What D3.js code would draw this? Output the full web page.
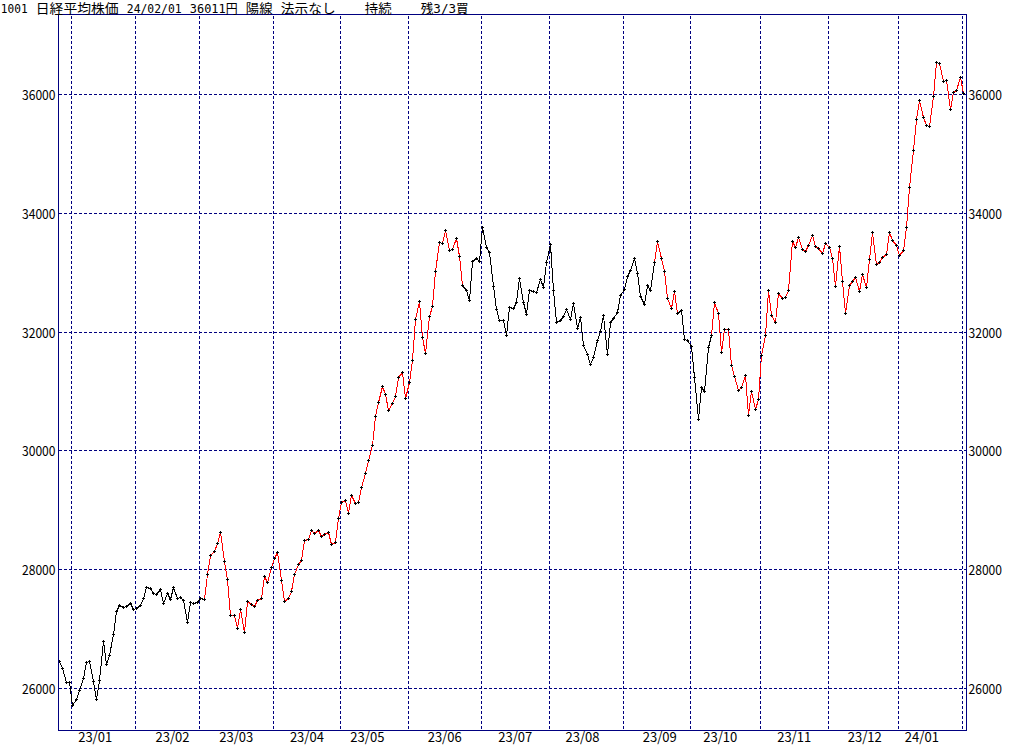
<!DOCTYPE html>
<html><head><meta charset="utf-8">
<script src="https://cdn.jsdelivr.net/npm/d3@7/dist/d3.min.js"></script>
<style>html,body{margin:0;padding:0;background:#fff;overflow:hidden}</style>
</head><body><svg id="c" width="1024" height="745"></svg>
<script>
// ---- data ----
const title = "1001 日経平均株価 24/02/01 36011円 陽線 法示なし    持続    残3/3買";
// daily closes, 2022/12/27 .. 2024/02/01
const closes = [
 // 2022/12
 26447.87,26340.50,26093.67,26094.50,
 // 2023/01
 25716.86,25820.80,25973.85,26175.56,26446.00,26449.61,26119.52,25822.32,26138.68,26791.12,
 26405.23,26553.53,26906.04,27299.19,27395.01,27362.75,27382.56,27433.40,27327.11,
 // 02
 27346.88,27402.05,27509.46,27693.65,27685.47,27606.46,27584.35,27670.98,27427.32,27602.77,
 27501.86,27696.44,27513.13,27531.94,27473.10,27104.32,27453.48,27423.96,27445.56,
 // 03
 27516.53,27498.87,27927.47,28237.78,28309.16,28444.19,28623.15,28143.97,27832.96,27222.04,
 27229.48,27010.61,27333.79,26945.67,27466.61,27419.61,27385.25,27476.87,27518.25,27883.78,
 27782.93,28041.48,
 // 04
 28188.15,28287.42,27813.26,27472.63,27518.31,27633.66,27923.37,28082.70,28156.97,28493.47,
 28514.78,28658.83,28606.76,28657.57,28564.37,28593.52,28620.07,28416.47,28457.68,28856.44,
 // 05
 29123.18,29157.95,28949.88,29242.82,29122.18,29126.72,29388.30,29626.34,29842.99,30093.59,
 30573.93,30808.35,31086.82,30957.77,30682.68,30801.13,30916.31,31233.54,31328.16,30887.88,
 // 06
 31148.01,31524.22,32217.43,32506.78,31913.74,31641.27,32265.17,32434.00,33018.65,33502.42,
 33485.49,33706.08,33370.42,33388.91,33575.14,33264.88,32781.54,32698.81,32538.33,33193.99,
 33234.14,33189.04,
 // 07
 33753.33,33422.52,33338.70,32773.02,32388.42,32189.73,32203.57,31943.93,32419.33,32391.26,
 32493.89,32896.03,32490.52,32304.25,32700.69,32682.51,32668.34,32891.16,32759.23,33172.22,
 // 08
 33476.58,32707.69,32159.28,32192.75,32254.56,32377.29,32204.33,32473.65,32059.91,32238.89,
 31766.82,31626.00,31450.76,31565.64,31856.71,32010.26,32287.21,31624.28,32169.99,32226.97,
 32333.46,32619.34,
 // 09
 32710.62,32939.18,33036.76,33241.02,32991.08,32606.84,32467.76,32776.37,32706.52,33168.10,
 33533.09,33242.59,33023.78,32571.03,32402.41,32678.62,32315.05,32371.90,31872.52,31857.62,
 // 10
 31759.88,31237.94,30526.88,31075.36,30994.67,31746.53,31936.51,32494.66,32315.99,31659.03,
 32040.29,32042.25,31430.62,31259.36,31019.34,31062.35,31269.92,30601.78,30991.69,30696.96,
 30858.85,
 // 11
 31601.65,31949.89,32708.48,32271.82,32166.48,32646.46,32568.11,32585.11,32695.86,33519.70,
 33424.41,33585.20,33388.03,33354.14,33451.83,33625.53,33447.67,33408.39,33321.22,33486.89,
 // 12
 33431.51,33231.27,32775.82,33445.90,32858.31,32307.86,32791.80,32843.71,32926.35,32686.25,
 32970.55,32758.98,33219.39,33675.94,33140.47,33169.05,33254.67,33305.85,33681.24,33539.62,
 33464.17,
 // 2024/01
 33288.29,33377.42,33763.18,34441.72,35049.86,35577.11,35901.79,35619.18,35477.75,35466.17,
 35963.27,36546.95,36517.57,36226.48,36236.47,35751.07,36026.94,36065.86,36286.71,
 // 02
 36011.46
];
const monthStartIdx = [4,23,42,64,84,104,126,146,168,188,209,229,250,269];
const monthLabels = ["23/01","23/02","23/03","23/04","23/05","23/06","23/07","23/08","23/09","23/10","23/11","23/12","24/01"];
const monthLabelIdx = [11,34,53,74,92,115,136,156,179,197,219,240,257];
const yTicks = [26000,28000,30000,32000,34000,36000];
const signalStart = [0,44,121,178,185,195];
const signalState = ["none","buy","none","buy","none","buy"];

// ---- layout ----
const svg = d3.select("#c");
const L = 58, R = 966, T = 14, B = 730;
const navy = "#000080";
const x = d3.scaleLinear().domain([0, closes.length - 1]).range([59.5, 963.5]);
const y = d3.scaleLinear().domain([26000, 36000]).range([688.5, 94.5]);
const px = i => Math.floor(x(i));
const py = v => Math.floor(y(v));
const stateAt = i => signalState[d3.bisectRight(signalStart, i) - 1];
const color = s => s === "buy" ? "#ff0000" : "#000000";
const font = "'Noto Sans CJK JP', sans-serif";
const titleFont = "'DejaVu Sans Mono', 'Noto Sans CJK JP', monospace";

svg.append("rect").attr("width",1024).attr("height",745).attr("fill","#fff");

// grid
const g = svg.append("g").attr("shape-rendering","crispEdges").attr("stroke",navy)
  .attr("stroke-width",1).attr("stroke-dasharray","3,2").attr("fill","none");
g.selectAll("line.h").data(yTicks).join("line").attr("class","h")
  .attr("x1",L+1).attr("x2",R).attr("y1",d=>py(d)+0.5).attr("y2",d=>py(d)+0.5);
g.selectAll("line.v").data(monthStartIdx).join("line").attr("class","v")
  .attr("x1",d=>px(d)-0.5).attr("x2",d=>px(d)-0.5).attr("y1",T+2).attr("y2",B);

// price line segments
const segs = d3.range(1, closes.length);
svg.append("g").attr("shape-rendering","crispEdges").attr("stroke-width",1)
  .selectAll("line").data(segs).join("line")
  .attr("x1",i=>px(i-1)+0.5).attr("y1",i=>py(closes[i-1])+0.5)
  .attr("x2",i=>px(i)+0.5).attr("y2",i=>py(closes[i])+0.5)
  .attr("stroke",i=>color(stateAt(i)));

// point markers
svg.append("g").attr("shape-rendering","crispEdges").attr("stroke","#000").attr("stroke-width",1)
  .selectAll("path").data(closes).join("path")
  .attr("d",(v,i)=>{const cx=px(i), cy=py(v);
    return `M${cx-1},${cy+0.5}H${cx+2}M${cx+0.5},${cy-1}V${cy+2}`;});

// frame
svg.append("rect").attr("x",L+0.5).attr("y",T+0.5).attr("width",R-L).attr("height",B-T)
  .attr("fill","none").attr("stroke",navy).attr("stroke-width",1).attr("shape-rendering","crispEdges");

// y labels
const yl = svg.append("g").attr("font-family",font).attr("font-size","13.5px").attr("fill","#000");
yl.selectAll("text.l").data(yTicks).join("text").attr("class","l")
  .attr("x",22).attr("y",d=>py(d)+5.5).attr("textLength",33.5).attr("lengthAdjust","spacingAndGlyphs")
  .text(d=>d);
yl.selectAll("text.r").data(yTicks).join("text").attr("class","r")
  .attr("x",968.5).attr("y",d=>py(d)+5.5).attr("textLength",33.5).attr("lengthAdjust","spacingAndGlyphs")
  .text(d=>d);

// x labels
svg.append("g").attr("font-family",font).attr("font-size","13.5px").attr("fill","#000")
  .selectAll("text").data(monthLabels).join("text")
  .attr("x",(d,k)=>x(monthLabelIdx[k]) - 1.3 - 17).attr("y",742)
  .attr("textLength",34).attr("lengthAdjust","spacingAndGlyphs").text(d=>d);

// title (fixed-pitch layout: half-width = 1 unit, full-width = 2 units)
const unit = 7;
const runs = [];
let u = 0, cur = null;
for (const ch of title) {
  const w = ch.charCodeAt(0) < 128 ? 1 : 2;
  if (ch === " ") { if (cur) { runs.push(cur); cur = null; } }
  else { if (!cur) cur = {t:"", s:u, w:0}; cur.t += ch; cur.w += w; }
  u += w;
}
if (cur) runs.push(cur);
svg.append("g").attr("font-family",titleFont).attr("font-size","13px").attr("fill","#000")
  .selectAll("text").data(runs).join("text")
  .attr("x",d=>d.s*unit+0.8).attr("y",12.8)
  .attr("textLength",d=>d.w*unit-1.2).attr("lengthAdjust","spacingAndGlyphs").text(d=>d.t);
</script></body></html>
